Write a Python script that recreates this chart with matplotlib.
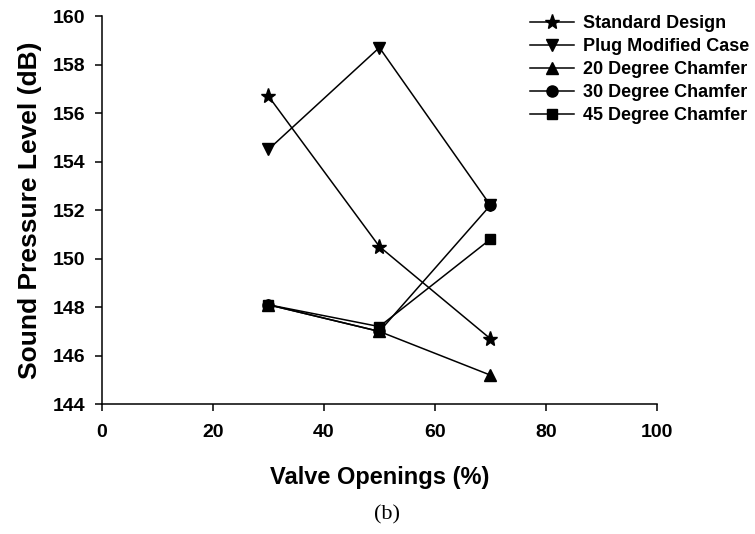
import matplotlib.pyplot as plt

plt.rcParams['font.family'] = ['Liberation Sans', 'DejaVu Sans']

# valve openings and measured sound pressure levels
openings = [30, 50, 70]
standard = [156.7, 150.5, 146.7]
plug_mod = [154.5, 158.7, 152.2]
chamfer20 = [148.1, 147.0, 145.2]
chamfer30 = [148.1, 147.0, 152.2]
chamfer45 = [148.1, 147.2, 150.8]

labels = ['Standard Design', 'Plug Modified Case', '20 Degree Chamfer',
          '30 Degree Chamfer', '45 Degree Chamfer']

fig = plt.figure(figsize=(7.55, 5.34), dpi=100)
ax = fig.add_axes([0.135, 0.243, 0.735, 0.727])

series = [standard, plug_mod, chamfer20, chamfer30, chamfer45]
markers = ['*', 'v', '^', 'o', 's']
sizes = [11, 8, 8, 8, 7]
lines = []
for y, m, s, lab in zip(series, markers, sizes, labels):
    ln, = ax.plot(openings, y, color='black', lw=1.1, marker=m, ms=s,
                  markerfacecolor='black', markeredgecolor='black', label=lab)
    lines.append(ln)

ax.set_xlim(0, 100)
ax.set_ylim(144, 160)
ax.set_xticks(range(0, 101, 20))
ax.set_yticks(range(144, 161, 2))
for side in ['top', 'right']:
    ax.spines[side].set_visible(False)
for side in ['left', 'bottom']:
    ax.spines[side].set_linewidth(1.1)
ax.tick_params(direction='out', length=5, width=1.1, labelsize=14)
ax.tick_params(axis='x', pad=9)
ax.tick_params(axis='y', pad=7)
for t in ax.get_xticklabels() + ax.get_yticklabels():
    t.set_fontweight('bold')

ax.set_xlabel('Valve Openings (%)', fontsize=17, fontweight='bold', labelpad=18)
ax.set_ylabel('Sound Pressure Level (dB)', fontsize=19, fontweight='bold', labelpad=8)

fig.legend(handles=lines, loc='upper left', bbox_to_anchor=(0.682, 1.0),
           frameon=False, prop={'weight': 'bold', 'size': 13},
           handlelength=2.4, handletextpad=0.5, labelspacing=0.33,
           borderaxespad=0.45)

fig.text(0.512, 0.035, '(b)', ha='center', va='center', fontsize=16,
         family=['Liberation Serif', 'DejaVu Serif'])

fig.savefig('out.png', dpi=100)
